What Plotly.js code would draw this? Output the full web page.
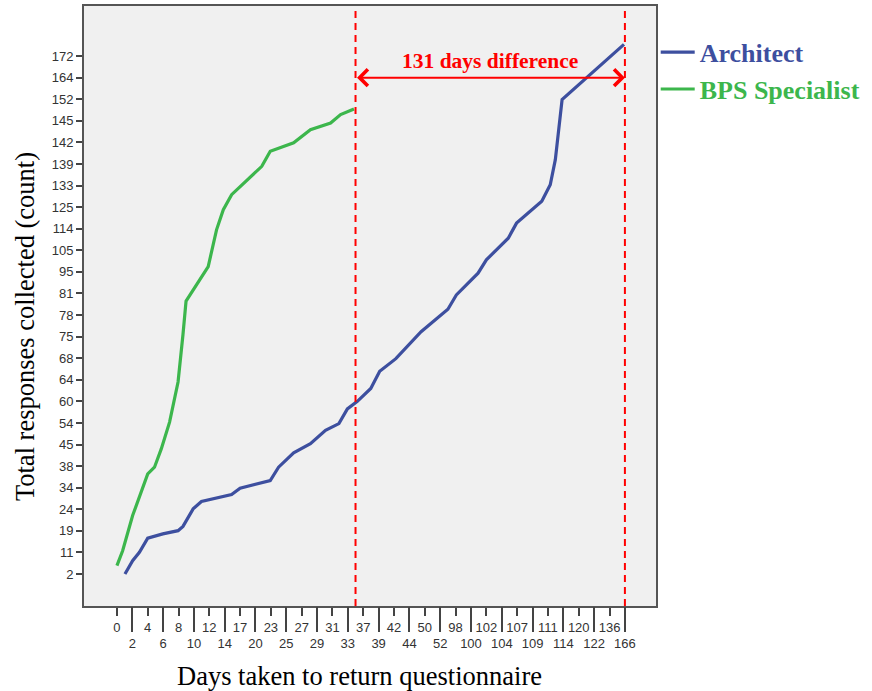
<!DOCTYPE html>
<html>
<head>
<meta charset="utf-8">
<script src="https://cdn.plot.ly/plotly-3.0.1.min.js"></script>
<style>html,body{margin:0;padding:0;background:#fff;}#chart{width:872px;height:691px;}</style>
</head>
<body>
<div id="chart"></div>
<script>
// Category axes (SPSS-style): positions are category indices
var xLabels = ['0','2','4','6','8','10','12','14','17','20','23','25','27','29','31','33','37','39','42','44','50','52','98','100','102','104','107','109','111','114','120','122','136','166'];
var yLabels = ['2','11','19','24','34','38','45','54','60','64','68','75','78','81','95','105','114','125','133','139','142','145','152','164','172'];

// Architect line (x = day category index, y = count category index)
var architectX = [0.52,1.02,1.46,2.0,2.98,3.97,4.29,4.95,5.49,6.47,7.45,8.0,8.87,9.96,10.5,11.48,12.57,13.55,14.42,14.97,15.62,16.49,17.07,18.12,19.76,21.5,22.05,23.46,24.0,25.42,25.96,27.6,28.15,28.48,28.92,32.94];
var architectY = [0,0.62,1.01,1.66,1.86,2.01,2.21,3.02,3.36,3.51,3.68,3.98,4.13,4.33,4.95,5.62,6.04,6.66,6.97,7.65,8.0,8.6,9.4,9.98,11.23,12.27,12.93,13.94,14.56,15.56,16.26,17.27,18.04,19.2,21.99,24.54];

// BPS Specialist line
var bpsX = [0,0.37,1.02,2.0,2.44,2.88,3.42,3.97,4.29,4.49,5.93,6.47,6.91,7.45,9.41,9.96,11.48,12.57,13.88,14.53,15.4];
var bpsY = [0.39,1.08,2.71,4.64,4.95,5.80,7.04,8.90,11.1,12.65,14.25,15.95,16.88,17.58,18.89,19.59,19.98,20.59,20.90,21.29,21.55];

// Reference markers: end of specialist collection and end of architect collection
var markerX = [15.5, 33];
var arrowY = 23;
var diffText = '131 days difference';

var xIdx = xLabels.map(function(_, i){ return i; });
var evenIdx = xIdx.filter(function(i){ return i % 2 === 0; });
var oddIdx = xIdx.filter(function(i){ return i % 2 === 1; });
var yIdx = yLabels.map(function(_, i){ return i; });

var blue = '#3d4f9f';
var green = '#3cb64c';
var red = '#ff0000';
var serif = '"Liberation Serif", "Times New Roman", serif';
var sans = '"Liberation Sans", Arial, sans-serif';

var traces = [
  {x: architectX, y: architectY, mode: 'lines', type: 'scatter',
   name: '<span style="color:' + blue + '"><b>Architect</b></span>',
   line: {color: blue, width: 3.2, shape: 'linear'}},
  {x: bpsX, y: bpsY, mode: 'lines', type: 'scatter',
   name: '<span style="color:' + green + '"><b>BPS Specialist</b></span>',
   line: {color: green, width: 3.2, shape: 'linear'}},
  // invisible trace to carry the second x axis (odd-category ticks)
  {x: [0], y: [0], xaxis: 'x2', mode: 'markers', marker: {opacity: 0}, showlegend: false, hoverinfo: 'skip'}
];

var xRange = [-2.14, 35.02];
var layout = {
  width: 872, height: 691,
  margin: {l: 84, r: 216, t: 6, b: 85},
  paper_bgcolor: '#ffffff',
  plot_bgcolor: '#f0f0f0',
  font: {family: sans, color: '#333333', size: 13},
  showlegend: true,
  legend: {x: 0.9995, y: 0.962, xanchor: 'left', yanchor: 'top', bgcolor: 'rgba(0,0,0,0)',
           font: {family: serif, size: 26}, itemwidth: 34, tracegroupgap: 0},
  xaxis: {range: xRange, tickmode: 'array', tickvals: evenIdx,
          ticktext: evenIdx.map(function(i){ return xLabels[i]; }),
          ticks: 'outside', ticklen: 8, tickwidth: 2, tickcolor: '#444',
          showgrid: false, zeroline: false, showline: true, linecolor: '#555', linewidth: 2, mirror: true,
          tickfont: {family: sans, size: 13, color: '#333'}},
  xaxis2: {range: xRange, overlaying: 'x', anchor: 'y', side: 'bottom', tickmode: 'array', tickvals: oddIdx,
           ticktext: oddIdx.map(function(i){ return xLabels[i]; }),
           ticks: 'outside', ticklen: 25, tickwidth: 2, tickcolor: '#444',
           showgrid: false, zeroline: false, showline: false,
           tickfont: {family: sans, size: 13, color: '#333'}},
  yaxis: {range: [-1.48, 26.32], tickmode: 'array', tickvals: yIdx, ticktext: yLabels,
          ticks: 'outside', ticklen: 6, tickwidth: 2, tickcolor: '#444',
          showgrid: false, zeroline: false, showline: true, linecolor: '#555', linewidth: 2, mirror: true,
          tickfont: {family: sans, size: 13, color: '#333'}},
  shapes: markerX.map(function(v){
    return {type: 'line', xref: 'x', yref: 'paper', x0: v, x1: v, y0: 0, y1: 1,
            line: {color: red, width: 2, dash: '7px,5px'}};
  }),
  annotations: [
    {x: markerX[1], y: arrowY, ax: markerX[0], ay: arrowY, xref: 'x', yref: 'y', axref: 'x', ayref: 'y',
     text: '', showarrow: true, arrowhead: 4, startarrowhead: 4, arrowside: 'end+start',
     arrowsize: 1.6, startarrowsize: 1.6, arrowwidth: 2, arrowcolor: red, standoff: 0, startstandoff: 0},
    {x: (markerX[0] + markerX[1]) / 2, y: arrowY, xref: 'x', yref: 'y', yanchor: 'bottom', yshift: 3,
     text: '<b>' + diffText + '</b>', showarrow: false,
     font: {family: serif, size: 21.5, color: red}},
    {x: 0.4825, y: -0.117, xref: 'paper', yref: 'paper', xanchor: 'center', yanchor: 'middle',
     text: 'Days taken to return questionnaire', showarrow: false,
     font: {family: serif, size: 26.5, color: '#000'}},
    {x: -0.103, y: 0.465, xref: 'paper', yref: 'paper', xanchor: 'center', yanchor: 'middle',
     text: 'Total responses collected (count)', textangle: -90, showarrow: false,
     font: {family: serif, size: 26.5, color: '#000'}}
  ]
};

Plotly.newPlot('chart', traces, layout, {displayModeBar: false, staticPlot: true});
</script>
</body>
</html>
